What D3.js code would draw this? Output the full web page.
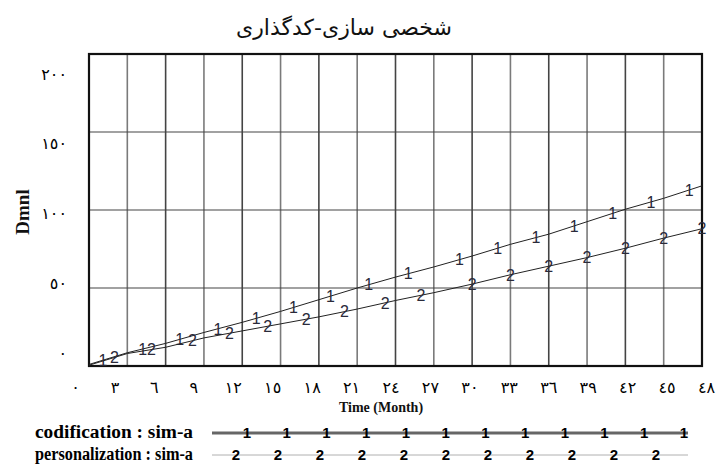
<!DOCTYPE html>
<html lang="fa">
<head>
  <meta charset="UTF-8">
  <title>شخصی سازی-کدگذاری</title>
  <script src="https://d3js.org/d3.v7.min.js"></script>
  <style>
    body, html {
      margin: 0;
      padding: 0;
      background: #fff;
    }
    svg {
      display: block;
    }
    .title {
      font-family: "DejaVu Sans", sans-serif;
      font-size: 22px;
      fill: #111;
    }
    .tick-label {
      font-family: "DejaVu Sans", sans-serif;
      font-size: 16px;
      fill: #000;
    }
    .axis-title {
      font-family: "Liberation Serif", serif;
      font-weight: bold;
      fill: #111;
    }
    .marker {
      font-family: "Liberation Sans", Arial, sans-serif;
      font-size: 16px;
      fill: #2a2a3a;
      text-anchor: middle;
    }
    .legend-text {
      font-family: "Liberation Serif", serif;
      font-weight: bold;
      font-size: 18px;
      fill: #000;
    }
    .legend-marker {
      font-family: "Liberation Sans", Arial, sans-serif;
      font-weight: bold;
      font-size: 15px;
      fill: #000;
      text-anchor: middle;
    }
  </style>
</head>
<body>
  <svg width="721" height="468"></svg>

  <script>
    // data (time in months)
    const months = [0, 3, 6, 9, 12, 15, 18, 21, 24, 27, 30, 33, 36, 39, 42, 45, 48];
    const codification = [1, 8.5, 14.5, 21.5, 28, 35, 42.5, 50, 57, 63.5, 70.5, 78, 84.5, 92.5, 100.5, 107.5, 115.5];
    const personalization = [0.5, 8, 12, 18, 22.5, 27, 31.5, 36.5, 42, 47, 52.5, 58.5, 64, 69.5, 75.5, 82, 88];

    // where the "1" / "2" markers sit along each line
    const codificationMarks = [1.1, 4.2, 7.1, 10.1, 13.1, 16, 18.9, 21.9, 25, 29, 32, 35, 38, 41, 44, 47];
    const personalizationMarks = [2, 4.9, 8.1, 11, 14, 17, 20, 23.2, 26, 30, 33, 36, 39, 42, 45, 48];

    const xTickLabels = ["٠", "٣", "٦", "٩", "١٢", "١٥", "١٨", "٢١", "٢٤", "٢٧", "٣٠", "٣٣", "٣٦", "٣٩", "٤٢", "٤٥", "٤٨"];
    const yTicks = [0, 50, 100, 150, 200];
    const yTickLabels = ["٠", "٥٠", "١٠٠", "١٥٠", "٢٠٠"];

    const titleText = "شخصی سازی-کدگذاری";
    const seriesNames = ["codification : sim-a", "personalization : sim-a"];

    const plot = { left: 89, right: 702, top: 54, bottom: 366 };

    const svg = d3.select("svg");

    const x = d3.scaleLinear().domain([0, 48]).range([plot.left, plot.right]);
    const y = d3.scaleLinear().domain([0, 200]).range([plot.bottom, plot.top]);

    // Vensim spreads its tick labels a bit wider than the plot box
    const xLabel = d3.scaleLinear().domain([0, 48]).range([75, 706]);
    const yLabel = d3.scaleLinear().domain([0, 200]).range([353, 74]);

    svg.append("text")
      .attr("class", "title")
      .attr("x", 344)
      .attr("y", 35)
      .attr("text-anchor", "middle")
      .attr("direction", "rtl")
      .text(titleText);

    // grid
    svg.append("g")
      .selectAll("line")
      .data(months.slice(1, -1))
      .enter().append("line")
      .attr("x1", d => x(d)).attr("x2", d => x(d))
      .attr("y1", plot.top).attr("y2", plot.bottom)
      .attr("stroke", (d, i) => i % 2 ? "#444" : "#7a7a7a")
      .attr("stroke-width", 1.6);

    svg.append("g")
      .selectAll("line")
      .data(yTicks.slice(1, -1))
      .enter().append("line")
      .attr("x1", plot.left).attr("x2", plot.right)
      .attr("y1", d => y(d)).attr("y2", d => y(d))
      .attr("stroke", "#444")
      .attr("stroke-width", 1.2);

    svg.append("rect")
      .attr("x", plot.left).attr("y", plot.top)
      .attr("width", plot.right - plot.left)
      .attr("height", plot.bottom - plot.top)
      .attr("fill", "none")
      .attr("stroke", "#111")
      .attr("stroke-width", 2.2);

    // tick labels via axes
    const xAxis = svg.append("g")
      .attr("transform", "translate(0,379)")
      .call(d3.axisBottom(xLabel).tickValues(months).tickSize(0).tickFormat((d, i) => xTickLabels[i]));
    xAxis.select(".domain").remove();
    xAxis.selectAll("text").attr("class", "tick-label").attr("font-family", null).attr("font-size", null);

    const yAxis = svg.append("g")
      .attr("transform", "translate(70,0)")
      .call(d3.axisLeft(yLabel).tickValues(yTicks).tickSize(0).tickFormat((d, i) => yTickLabels[i]));
    yAxis.select(".domain").remove();
    yAxis.selectAll("text").attr("class", "tick-label").attr("font-family", null).attr("font-size", null);

    svg.append("text")
      .attr("class", "axis-title")
      .attr("font-size", 14)
      .attr("x", 381)
      .attr("y", 412)
      .attr("text-anchor", "middle")
      .text("Time (Month)");

    svg.append("text")
      .attr("class", "axis-title")
      .attr("font-size", 19)
      .attr("transform", "translate(29,212) rotate(-90)")
      .attr("text-anchor", "middle")
      .text("Dmnl");

    // lines
    const line = d3.line()
      .x((d, i) => x(months[i]))
      .y(d => y(d));

    const series = [
      { values: codification, marks: codificationMarks, label: "1" },
      { values: personalization, marks: personalizationMarks, label: "2" }
    ];

    const valueAt = (values, t) => {
      const i = Math.min(Math.floor(t / 3), months.length - 2);
      const f = (t - months[i]) / 3;
      return values[i] + (values[i + 1] - values[i]) * f;
    };

    series.forEach(s => {
      svg.append("path")
        .attr("d", line(s.values))
        .attr("fill", "none")
        .attr("stroke", "#222")
        .attr("stroke-width", 1);

      svg.append("g")
        .selectAll("text")
        .data(s.marks)
        .enter().append("text")
        .attr("class", "marker")
        .attr("x", d => x(d))
        .attr("y", d => y(valueAt(s.values, d)))
        .attr("dy", "0.36em")
        .text(s.label);
    });

    // legend
    const legendY = [433, 455];
    const legendMarks = [
      d3.range(12).map(i => 247 + i * (684 - 247) / 11),
      d3.range(11).map(i => 236 + i * (656 - 236) / 10)
    ];

    seriesNames.forEach((name, k) => {
      const g = svg.append("g");
      g.append("text")
        .attr("class", "legend-text")
        .attr("x", 193)
        .attr("y", legendY[k] + 5)
        .attr("text-anchor", "end")
        .attr("textLength", 158)
        .attr("lengthAdjust", "spacingAndGlyphs")
        .text(name);

      g.append("line")
        .attr("x1", 212).attr("x2", 688)
        .attr("y1", legendY[k]).attr("y2", legendY[k])
        .attr("stroke", k === 0 ? "#666" : "#b0b0b0")
        .attr("stroke-width", k === 0 ? 3 : 1);

      g.selectAll("text.legend-marker")
        .data(legendMarks[k])
        .enter().append("text")
        .attr("class", "legend-marker")
        .attr("x", d => d)
        .attr("y", legendY[k])
        .attr("dy", "0.36em")
        .text(series[k].label);
    });
  </script>
</body>
</html>
